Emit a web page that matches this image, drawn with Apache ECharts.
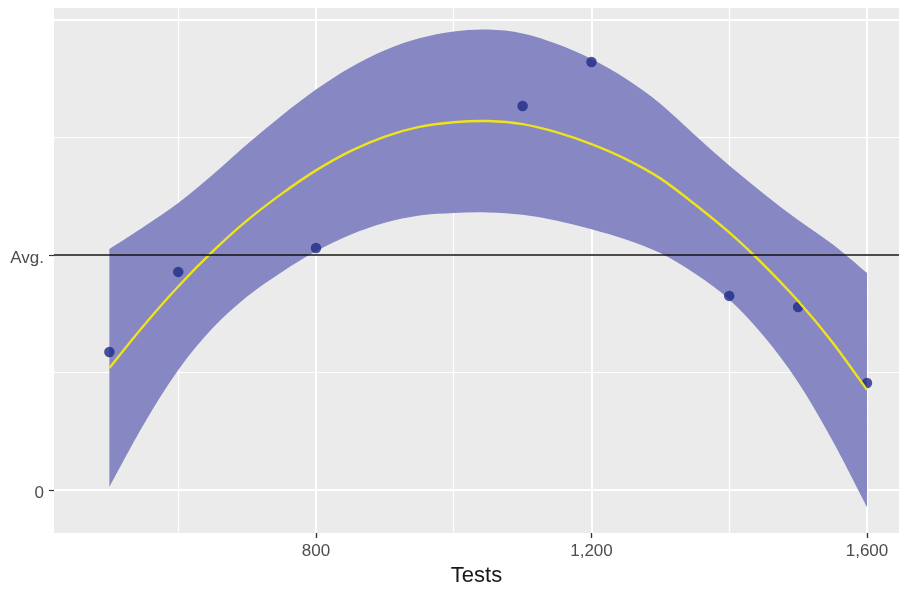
<!DOCTYPE html>
<html>
<head>
<meta charset="utf-8">
<script src="https://cdn.jsdelivr.net/npm/echarts@6/dist/echarts.min.js"></script>
<style>html,body{margin:0;padding:0;background:#fff}#c{width:899px;height:589px}</style>
</head>
<body>
<div id="c"></div>
<script>
// ---- data ----
const bandX     = [500,550,600,650,700,750,800,850,900,950,1000,1050,1100,1150,1200,1250,1300,1350,1400,1450,1500,1550,1600];
const bandUpper = [102.5,112.0,122.1,134.1,147.1,159.3,170.4,179.8,187.1,192.2,195.1,195.9,194.3,189.8,183.4,175.0,164.4,151.1,138.1,126.1,114.9,104.6,92.4];
const bandLower = [1.3,28.0,51.1,68.9,82.3,92.7,101.6,108.6,113.7,116.8,117.9,118.1,117.1,114.6,111.0,106.6,100.8,92.1,81.1,65.5,45.9,21.0,-7.2];
const fitY      = [51.9,70.0,86.6,101.5,114.7,126.0,136.0,144.2,150.4,154.5,156.5,157.0,155.7,152.2,147.2,140.8,132.6,121.6,109.6,95.8,80.4,62.8,42.6];
const pointX = [500,600,800,1100,1200,1400,1500,1600];
const pointY = [58.7,92.8,103.0,163.4,182.1,82.6,77.9,45.5];
const avgValue = 100;
const xTickValues = [800,1200,1600];
const xMinorGrid  = [600,1000,1400];
const yTickValues = [0,100];
const yTickLabels = ['0','Avg.'];
const yMajorExtra = [200];
const yMinorGrid  = [50,150];
const xTitle = 'Tests';

// ---- chart ----
const FONT = '"Liberation Sans", Arial, sans-serif';
const xMin = 419.6, xMax = 1646.5, yMin = -18.3, yMax = 205.1;
const fmtThousands = v => String(v).replace(/\B(?=(\d{3})+(?!\d))/g, ',');
const zip = (a, b) => a.map((v, i) => [v, b[i]]);

const hiddenAxis = (vals, width) => ({
  type: 'value',
  axisLine: {show: false, onZero: false}, axisLabel: {show: false},
  axisTick: {show: false, customValues: vals},
  splitLine: {show: true, lineStyle: {color: '#ffffff', width: width}}
});

const xA0 = {
  type: 'value', min: xMin, max: xMax, position: 'bottom',
  axisLine: {show: false, onZero: false},
  axisTick: {show: true, customValues: xTickValues, length: 5, lineStyle: {color: '#333333', width: 1.2}},
  axisLabel: {customValues: xTickValues, formatter: v => fmtThousands(v), color: '#4d4d4d',
              fontSize: 17, fontFamily: FONT, margin: 10},
  splitLine: {show: true, lineStyle: {color: '#ffffff', width: 2}},
  name: xTitle, nameLocation: 'middle', nameGap: 31,
  nameTextStyle: {fontSize: 22, fontFamily: FONT, color: '#1a1a1a'}
};
const xA1 = Object.assign(hiddenAxis(xMinorGrid, 1.2), {min: xMin, max: xMax, position: 'bottom'});
// tick marks only
const xA2 = {
  type: 'value', min: xMin, max: xMax, position: 'bottom',
  axisLine: {show: false, onZero: false}, axisLabel: {show: false}, splitLine: {show: false},
  axisTick: {show: true, inside: false, customValues: xTickValues, length: 5, lineStyle: {color: '#333333', width: 1.2}}
};

const yA0 = {
  type: 'value', min: yMin, max: yMax, position: 'left',
  axisLine: {show: false, onZero: false},
  axisTick: {show: true, customValues: yTickValues, length: 5, lineStyle: {color: '#333333', width: 1.2}},
  axisLabel: {customValues: yTickValues,
              formatter: v => yTickLabels[yTickValues.indexOf(v)] ?? '',
              color: '#4d4d4d', fontSize: 17, fontFamily: FONT, margin: 10,
              verticalAlign: 'top', lineHeight: 6},
  splitLine: {show: true, lineStyle: {color: '#ffffff', width: 2}}
};
const yA1 = Object.assign(hiddenAxis(yMinorGrid, 1.2), {min: yMin, max: yMax, position: 'left'});
const yA2 = Object.assign(hiddenAxis(yMajorExtra, 2), {min: yMin, max: yMax, position: 'left'});

// Catmull-Rom spline through pixel points -> cubic bezier path commands
function splineCmds(p) {
  let d = '';
  for (let i = 0; i < p.length - 1; i++) {
    const p0 = p[Math.max(i - 1, 0)], p1 = p[i], p2 = p[i + 1], p3 = p[Math.min(i + 2, p.length - 1)];
    const c1 = [p1[0] + (p2[0] - p0[0]) / 6, p1[1] + (p2[1] - p0[1]) / 6];
    const c2 = [p2[0] - (p3[0] - p1[0]) / 6, p2[1] - (p3[1] - p1[1]) / 6];
    d += ` C${c1[0]},${c1[1]} ${c2[0]},${c2[1]} ${p2[0]},${p2[1]}`;
  }
  return d;
}

function renderBand(params, api) {
  if (params.dataIndex !== 0) return null;
  const up = bandX.map((x, i) => api.coord([x, bandUpper[i]]));
  const lo = bandX.map((x, i) => api.coord([x, bandLower[i]])).reverse();
  const d = `M${up[0][0]},${up[0][1]}` + splineCmds(up) + ` L${lo[0][0]},${lo[0][1]}` + splineCmds(lo) + ' Z';
  return {type: 'path', shape: {pathData: d}, style: {fill: '#8787c3', stroke: null}};
}

function renderFit(params, api) {
  if (params.dataIndex !== 0) return null;
  const pts = bandX.map((x, i) => api.coord([x, fitY[i]]));
  const d = `M${pts[0][0]},${pts[0][1]}` + splineCmds(pts);
  return {type: 'path', shape: {pathData: d}, style: {fill: null, stroke: '#efe31c', lineWidth: 2.4}};
}

const chart = echarts.init(document.getElementById('c'), null, {renderer: 'canvas'});
chart.setOption({
  animation: false,
  backgroundColor: '#ffffff',
  grid: {left: 54, right: 0, top: 8, bottom: 56, show: true, backgroundColor: '#ebebeb', borderWidth: 0,
         containLabel: false, outerBoundsMode: 'none'},
  xAxis: [xA0, xA1, xA2],
  yAxis: [yA0, yA1, yA2],
  series: [
    {
      name: 'band', type: 'custom', renderItem: renderBand, clip: true,
      data: bandX.map((x, i) => [x, bandLower[i], bandUpper[i]]),
      encode: {x: 0, y: [1, 2]}, silent: true, z: 2
    },
    {
      name: 'points', type: 'scatter', data: zip(pointX, pointY),
      symbol: 'circle', symbolSize: 10.5, itemStyle: {color: '#1e2b86'}, z: 3,
      markLine: {
        silent: true, symbol: ['none', 'none'], label: {show: false},
        lineStyle: {color: '#111111', width: 1.5, type: 'solid'},
        data: [{yAxis: avgValue}]
      }
    },
    {
      name: 'fit', type: 'custom', renderItem: renderFit, clip: true,
      data: zip(bandX, fitY), encode: {x: 0, y: 1}, silent: true, z: 4
    }
  ]
});
</script>
</body>
</html>
